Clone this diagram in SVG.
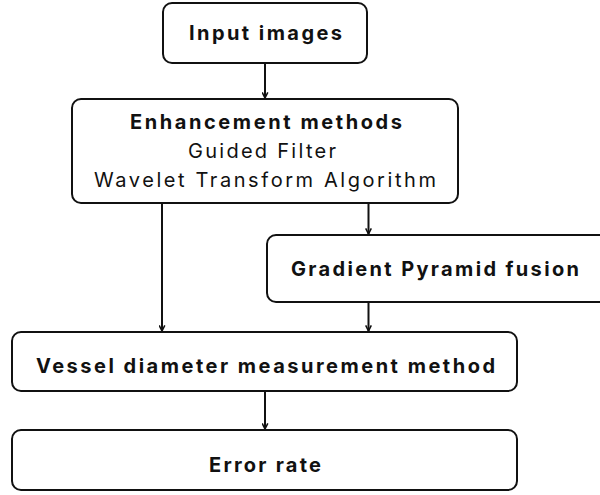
<svg xmlns="http://www.w3.org/2000/svg" width="600" height="495" viewBox="0 0 600 495">
<style>
.box{fill:#fff;stroke:#111;stroke-width:2}
.t{font-family:Inter,"DejaVu Sans","Liberation Sans",sans-serif;font-size:20px;fill:#111;text-anchor:middle}
.b{font-weight:700}
.edge{stroke:#111;stroke-width:2;fill:none;marker-end:url(#ah)}
</style>
<defs>
<marker id="ah" viewBox="0 0 10 10" refX="9" refY="5" markerWidth="7" markerHeight="7" orient="auto" markerUnits="userSpaceOnUse">
<path d="M1,1 L9,5 L1,9" fill="none" stroke="#111" stroke-width="2.2"/>
</marker>
</defs>
<g id="input">
<rect class="box" x="163" y="3" width="204" height="60" rx="9"/>
<text class="t b" x="265.5" y="40" textLength="153" lengthAdjust="spacing">Input images</text>
</g>
<g id="enhancement">
<rect class="box" x="72" y="99" width="386" height="104" rx="9"/>
<text class="t b" x="266" y="129" textLength="272" lengthAdjust="spacing">Enhancement methods</text>
<text class="t" x="262" y="158" textLength="148" lengthAdjust="spacing">Guided Filter</text>
<text class="t" x="265" y="187" textLength="342" lengthAdjust="spacing">Wavelet Transform Algorithm</text>
</g>
<g id="gradient">
<rect class="box" x="267" y="235" width="345" height="67" rx="9"/>
<text class="t b" x="435" y="276" textLength="288" lengthAdjust="spacing">Gradient Pyramid fusion</text>
</g>
<g id="vessel">
<rect class="box" x="12" y="332" width="505" height="59" rx="9"/>
<text class="t b" x="265.5" y="373" textLength="459" lengthAdjust="spacing">Vessel diameter measurement method</text>
</g>
<g id="error">
<rect class="box" x="12" y="430" width="505" height="60" rx="9"/>
<text class="t b" x="265" y="472" textLength="112" lengthAdjust="spacing">Error rate</text>
</g>
<g id="connectors">
<line class="edge" x1="265" y1="63" x2="265" y2="98"/>
<line class="edge" x1="368.5" y1="203" x2="368.5" y2="234"/>
<line class="edge" x1="162" y1="203" x2="162" y2="331"/>
<line class="edge" x1="368.5" y1="302" x2="368.5" y2="331"/>
<line class="edge" x1="265" y1="391" x2="265" y2="429"/>
</g>
</svg>
